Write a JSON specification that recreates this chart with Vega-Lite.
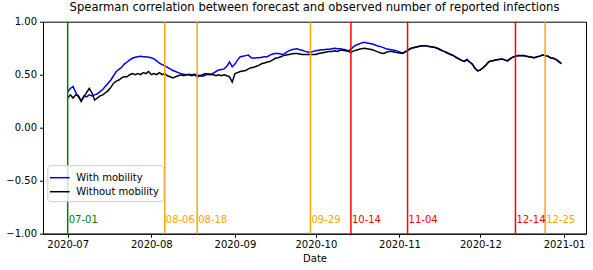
{
  "$schema": "https://vega.github.io/schema/vega-lite/v6.json",
  "autosize": {"type": "none"},
  "width": 543,
  "height": 212,
  "padding": {"left": 43, "top": 21.7, "right": 7, "bottom": 36.3},
  "title": {"text": "Spearman correlation between forecast and observed number of reported infections"},
  "config": {
    "title": {"fontSize": 11.6, "font": "DejaVu Sans", "fontWeight": "normal", "color": "#000000", "anchor": "middle", "offset": 3},
    "view": {"stroke": "black", "strokeWidth": 1},
    "axis": {"labelFont": "DejaVu Sans", "labelFontSize": 10, "labelColor": "black", "tickColor": "black", "domainColor": "black", "tickSize": 3.5, "grid": false, "titleFont": "DejaVu Sans", "titleFontSize": 10, "titleFontWeight": "normal", "titleColor": "black", "labelPadding": 3}
  },
  "datasets": {
    "events": [
      {"d": "2020-07-01", "lab": "07-01", "kind": "start"},
      {"d": "2020-08-06", "lab": "08-06", "kind": "A"},
      {"d": "2020-08-18", "lab": "08-18", "kind": "A"},
      {"d": "2020-09-29", "lab": "09-29", "kind": "A"},
      {"d": "2020-10-14", "lab": "10-14", "kind": "B"},
      {"d": "2020-11-04", "lab": "11-04", "kind": "B"},
      {"d": "2020-12-14", "lab": "12-14", "kind": "B"},
      {"d": "2020-12-25", "lab": "12-25", "kind": "A"}
    ],
    "corr": [
      {"d":"2020-07-01","with":0.34,"without":0.28},
      {"d":"2020-07-02","with":0.37,"without":0.31},
      {"d":"2020-07-03","with":0.39,"without":0.28},
      {"d":"2020-07-04","with":0.33,"without":0.31},
      {"d":"2020-07-05","with":0.29,"without":0.30},
      {"d":"2020-07-06","with":0.25,"without":0.25},
      {"d":"2020-07-07","with":0.30,"without":0.29},
      {"d":"2020-07-08","with":0.29,"without":0.33},
      {"d":"2020-07-09","with":0.31,"without":0.37},
      {"d":"2020-07-10","with":0.30,"without":0.33},
      {"d":"2020-07-11","with":0.31,"without":0.26},
      {"d":"2020-07-12","with":0.32,"without":0.28},
      {"d":"2020-07-13","with":0.34,"without":0.30},
      {"d":"2020-07-14","with":0.36,"without":0.31},
      {"d":"2020-07-15","with":0.39,"without":0.33},
      {"d":"2020-07-16","with":0.42,"without":0.35},
      {"d":"2020-07-17","with":0.45,"without":0.38},
      {"d":"2020-07-18","with":0.49,"without":0.42},
      {"d":"2020-07-19","with":0.53,"without":0.44},
      {"d":"2020-07-20","with":0.55,"without":0.45},
      {"d":"2020-07-21","with":0.57,"without":0.47},
      {"d":"2020-07-22","with":0.60,"without":0.48},
      {"d":"2020-07-23","with":0.62,"without":0.48},
      {"d":"2020-07-24","with":0.64,"without":0.50},
      {"d":"2020-07-25","with":0.655,"without":0.51},
      {"d":"2020-07-26","with":0.665,"without":0.50},
      {"d":"2020-07-27","with":0.67,"without":0.51},
      {"d":"2020-07-28","with":0.675,"without":0.50},
      {"d":"2020-07-29","with":0.67,"without":0.52},
      {"d":"2020-07-30","with":0.67,"without":0.51},
      {"d":"2020-07-31","with":0.665,"without":0.53},
      {"d":"2020-08-01","with":0.66,"without":0.50},
      {"d":"2020-08-02","with":0.65,"without":0.51},
      {"d":"2020-08-03","with":0.63,"without":0.50},
      {"d":"2020-08-04","with":0.61,"without":0.52},
      {"d":"2020-08-05","with":0.595,"without":0.50},
      {"d":"2020-08-06","with":0.585,"without":0.51},
      {"d":"2020-08-07","with":0.57,"without":0.49},
      {"d":"2020-08-08","with":0.555,"without":0.48},
      {"d":"2020-08-09","with":0.54,"without":0.47},
      {"d":"2020-08-10","with":0.53,"without":0.48},
      {"d":"2020-08-11","with":0.52,"without":0.49},
      {"d":"2020-08-12","with":0.51,"without":0.50},
      {"d":"2020-08-13","with":0.505,"without":0.49},
      {"d":"2020-08-14","with":0.50,"without":0.50},
      {"d":"2020-08-15","with":0.505,"without":0.50},
      {"d":"2020-08-16","with":0.50,"without":0.49},
      {"d":"2020-08-17","with":0.505,"without":0.50},
      {"d":"2020-08-18","with":0.50,"without":0.48},
      {"d":"2020-08-19","with":0.49,"without":0.49},
      {"d":"2020-08-20","with":0.485,"without":0.50},
      {"d":"2020-08-21","with":0.495,"without":0.51},
      {"d":"2020-08-22","with":0.51,"without":0.50},
      {"d":"2020-08-23","with":0.50,"without":0.505},
      {"d":"2020-08-24","with":0.515,"without":0.50},
      {"d":"2020-08-25","with":0.53,"without":0.49},
      {"d":"2020-08-26","with":0.545,"without":0.50},
      {"d":"2020-08-27","with":0.55,"without":0.49},
      {"d":"2020-08-28","with":0.555,"without":0.50},
      {"d":"2020-08-29","with":0.58,"without":0.49},
      {"d":"2020-08-30","with":0.62,"without":0.48},
      {"d":"2020-08-31","with":0.575,"without":0.43},
      {"d":"2020-09-01","with":0.60,"without":0.51},
      {"d":"2020-09-02","with":0.64,"without":0.52},
      {"d":"2020-09-03","with":0.67,"without":0.53},
      {"d":"2020-09-04","with":0.675,"without":0.535},
      {"d":"2020-09-05","with":0.68,"without":0.54},
      {"d":"2020-09-06","with":0.685,"without":0.555},
      {"d":"2020-09-07","with":0.66,"without":0.565},
      {"d":"2020-09-08","with":0.655,"without":0.57},
      {"d":"2020-09-09","with":0.66,"without":0.58},
      {"d":"2020-09-10","with":0.66,"without":0.59},
      {"d":"2020-09-11","with":0.665,"without":0.605},
      {"d":"2020-09-12","with":0.67,"without":0.61},
      {"d":"2020-09-13","with":0.67,"without":0.62},
      {"d":"2020-09-14","with":0.685,"without":0.625},
      {"d":"2020-09-15","with":0.695,"without":0.64},
      {"d":"2020-09-16","with":0.70,"without":0.655},
      {"d":"2020-09-17","with":0.70,"without":0.66},
      {"d":"2020-09-18","with":0.695,"without":0.67},
      {"d":"2020-09-19","with":0.69,"without":0.68},
      {"d":"2020-09-20","with":0.71,"without":0.685},
      {"d":"2020-09-21","with":0.725,"without":0.69},
      {"d":"2020-09-22","with":0.735,"without":0.695},
      {"d":"2020-09-23","with":0.74,"without":0.70},
      {"d":"2020-09-24","with":0.745,"without":0.70},
      {"d":"2020-09-25","with":0.735,"without":0.695},
      {"d":"2020-09-26","with":0.73,"without":0.69},
      {"d":"2020-09-27","with":0.72,"without":0.69},
      {"d":"2020-09-28","with":0.715,"without":0.69},
      {"d":"2020-09-29","with":0.71,"without":0.69},
      {"d":"2020-09-30","with":0.72,"without":0.69},
      {"d":"2020-10-01","with":0.725,"without":0.69},
      {"d":"2020-10-02","with":0.73,"without":0.70},
      {"d":"2020-10-03","with":0.735,"without":0.705},
      {"d":"2020-10-04","with":0.735,"without":0.71},
      {"d":"2020-10-05","with":0.74,"without":0.715},
      {"d":"2020-10-06","with":0.74,"without":0.72},
      {"d":"2020-10-07","with":0.745,"without":0.72},
      {"d":"2020-10-08","with":0.75,"without":0.725},
      {"d":"2020-10-09","with":0.745,"without":0.72},
      {"d":"2020-10-10","with":0.745,"without":0.73},
      {"d":"2020-10-11","with":0.74,"without":0.73},
      {"d":"2020-10-12","with":0.735,"without":0.725},
      {"d":"2020-10-13","with":0.725,"without":0.72},
      {"d":"2020-10-14","with":0.74,"without":0.71},
      {"d":"2020-10-15","with":0.765,"without":0.725},
      {"d":"2020-10-16","with":0.78,"without":0.73},
      {"d":"2020-10-17","with":0.79,"without":0.74},
      {"d":"2020-10-18","with":0.80,"without":0.745},
      {"d":"2020-10-19","with":0.805,"without":0.75},
      {"d":"2020-10-20","with":0.80,"without":0.745},
      {"d":"2020-10-21","with":0.795,"without":0.74},
      {"d":"2020-10-22","with":0.79,"without":0.735},
      {"d":"2020-10-23","with":0.78,"without":0.725},
      {"d":"2020-10-24","with":0.77,"without":0.715},
      {"d":"2020-10-25","with":0.765,"without":0.705},
      {"d":"2020-10-26","with":0.755,"without":0.70},
      {"d":"2020-10-27","with":0.745,"without":0.71},
      {"d":"2020-10-28","with":0.74,"without":0.72},
      {"d":"2020-10-29","with":0.735,"without":0.72},
      {"d":"2020-10-30","with":0.73,"without":0.715},
      {"d":"2020-10-31","with":0.725,"without":0.71},
      {"d":"2020-11-01","with":0.715,"without":0.705},
      {"d":"2020-11-02","with":0.705,"without":0.70},
      {"d":"2020-11-03","with":0.715,"without":0.71},
      {"d":"2020-11-04","with":0.73,"without":0.73},
      {"d":"2020-11-05","with":0.745,"without":0.745},
      {"d":"2020-11-06","with":0.755,"without":0.755},
      {"d":"2020-11-07","with":0.76,"without":0.76},
      {"d":"2020-11-08","with":0.765,"without":0.765},
      {"d":"2020-11-09","with":0.77,"without":0.77},
      {"d":"2020-11-10","with":0.774,"without":0.772},
      {"d":"2020-11-11","with":0.772,"without":0.772},
      {"d":"2020-11-12","with":0.765,"without":0.765},
      {"d":"2020-11-13","with":0.764,"without":0.762},
      {"d":"2020-11-14","with":0.758,"without":0.758},
      {"d":"2020-11-15","with":0.75,"without":0.75},
      {"d":"2020-11-16","with":0.738,"without":0.738},
      {"d":"2020-11-17","with":0.725,"without":0.725},
      {"d":"2020-11-18","with":0.715,"without":0.715},
      {"d":"2020-11-19","with":0.705,"without":0.70},
      {"d":"2020-11-20","with":0.69,"without":0.69},
      {"d":"2020-11-21","with":0.68,"without":0.68},
      {"d":"2020-11-22","with":0.665,"without":0.662},
      {"d":"2020-11-23","with":0.65,"without":0.65},
      {"d":"2020-11-24","with":0.635,"without":0.635},
      {"d":"2020-11-25","with":0.625,"without":0.625},
      {"d":"2020-11-26","with":0.645,"without":0.64},
      {"d":"2020-11-27","with":0.62,"without":0.62},
      {"d":"2020-11-28","with":0.60,"without":0.60},
      {"d":"2020-11-29","with":0.56,"without":0.56},
      {"d":"2020-11-30","with":0.535,"without":0.535},
      {"d":"2020-12-01","with":0.545,"without":0.545},
      {"d":"2020-12-02","with":0.565,"without":0.565},
      {"d":"2020-12-03","with":0.59,"without":0.59},
      {"d":"2020-12-04","with":0.62,"without":0.62},
      {"d":"2020-12-05","with":0.63,"without":0.63},
      {"d":"2020-12-06","with":0.635,"without":0.635},
      {"d":"2020-12-07","with":0.64,"without":0.64},
      {"d":"2020-12-08","with":0.645,"without":0.643},
      {"d":"2020-12-09","with":0.648,"without":0.648},
      {"d":"2020-12-10","with":0.64,"without":0.64},
      {"d":"2020-12-11","with":0.63,"without":0.63},
      {"d":"2020-12-12","with":0.65,"without":0.65},
      {"d":"2020-12-13","with":0.665,"without":0.665},
      {"d":"2020-12-14","with":0.675,"without":0.675},
      {"d":"2020-12-15","with":0.68,"without":0.68},
      {"d":"2020-12-16","with":0.68,"without":0.678},
      {"d":"2020-12-17","with":0.68,"without":0.68},
      {"d":"2020-12-18","with":0.675,"without":0.675},
      {"d":"2020-12-19","with":0.67,"without":0.67},
      {"d":"2020-12-20","with":0.665,"without":0.665},
      {"d":"2020-12-21","with":0.66,"without":0.66},
      {"d":"2020-12-22","with":0.67,"without":0.668},
      {"d":"2020-12-23","with":0.675,"without":0.675},
      {"d":"2020-12-24","with":0.685,"without":0.685},
      {"d":"2020-12-25","with":0.68,"without":0.68},
      {"d":"2020-12-26","with":0.675,"without":0.675},
      {"d":"2020-12-27","with":0.66,"without":0.66},
      {"d":"2020-12-28","with":0.655,"without":0.655},
      {"d":"2020-12-29","with":0.645,"without":0.645},
      {"d":"2020-12-30","with":0.625,"without":0.625},
      {"d":"2020-12-31","with":0.605,"without":0.605}
    ]
  },
  "resolve": {"scale": {"color": "independent"}},
  "layer": [
    {
      "data": {"name": "corr"},
      "transform": [{"fold": ["with", "without"], "as": ["series", "value"]}],
      "mark": {"type": "line", "strokeWidth": 1.5},
      "encoding": {
        "x": {
          "field": "d", "type": "temporal", "title": "Date",
          "scale": {"type": "utc", "domain": [{"year": 2020, "month": 6, "date": 21, "hours": 20, "minutes": 24, "utc": true}, {"year": 2021, "month": 1, "date": 9, "hours": 3, "minutes": 36, "utc": true}]},
          "axis": {
            "format": "%Y-%m", "titlePadding": 4, "labelPadding": 2,
            "values": [
              {"year": 2020, "month": 7, "date": 1, "utc": true},
              {"year": 2020, "month": 8, "date": 1, "utc": true},
              {"year": 2020, "month": 9, "date": 1, "utc": true},
              {"year": 2020, "month": 10, "date": 1, "utc": true},
              {"year": 2020, "month": 11, "date": 1, "utc": true},
              {"year": 2020, "month": 12, "date": 1, "utc": true},
              {"year": 2021, "month": 1, "date": 1, "utc": true}
            ]
          }
        },
        "y": {
          "field": "value", "type": "quantitative", "title": null,
          "scale": {"domain": [-1, 1], "nice": false, "zero": false},
          "axis": {"values": [-1, -0.75, -0.5, -0.25, 0, 0.25, 0.5, 0.75, 1], "labelExpr": "replace(format(datum.value, '.2f'), '-', '\u2212')"}
        },
        "color": {
          "field": "series", "type": "nominal",
          "scale": {"domain": ["with", "without"], "range": ["#0000ff", "#000000"]},
          "legend": {
            "title": null, "orient": "none", "legendX": 4.3, "legendY": 143.5,
            "labelExpr": "datum.label == 'with' ? 'With mobility' : 'Without mobility'",
            "symbolType": "M-1.3,0H1.3", "symbolSize": 230, "symbolStrokeWidth": 1.5,
            "labelFont": "DejaVu Sans", "labelFontSize": 10, "labelColor": "black", "labelOffset": 8,
            "strokeColor": "#cccccc", "fillColor": "rgba(255,255,255,0.8)", "cornerRadius": 3, "padding": 4, "rowPadding": 0
          }
        }
      }
    },
    {
      "data": {"name": "events"},
      "mark": {"type": "rule", "strokeWidth": 1.5},
      "encoding": {
        "x": {"field": "d", "type": "temporal"},
        "color": {"field": "kind", "type": "nominal", "scale": {"domain": ["start", "A", "B"], "range": ["#008000", "#ffa500", "#ff0000"]}, "legend": null}
      }
    },
    {
      "data": {"name": "events"},
      "mark": {"type": "text", "align": "left", "baseline": "middle", "dx": 1, "font": "DejaVu Sans", "fontSize": 10},
      "encoding": {
        "x": {"field": "d", "type": "temporal"},
        "y": {"datum": -0.875},
        "text": {"field": "lab"},
        "color": {"field": "kind", "type": "nominal", "scale": {"domain": ["start", "A", "B"], "range": ["#008000", "#ffa500", "#ff0000"]}, "legend": null}
      }
    }
  ]
}
